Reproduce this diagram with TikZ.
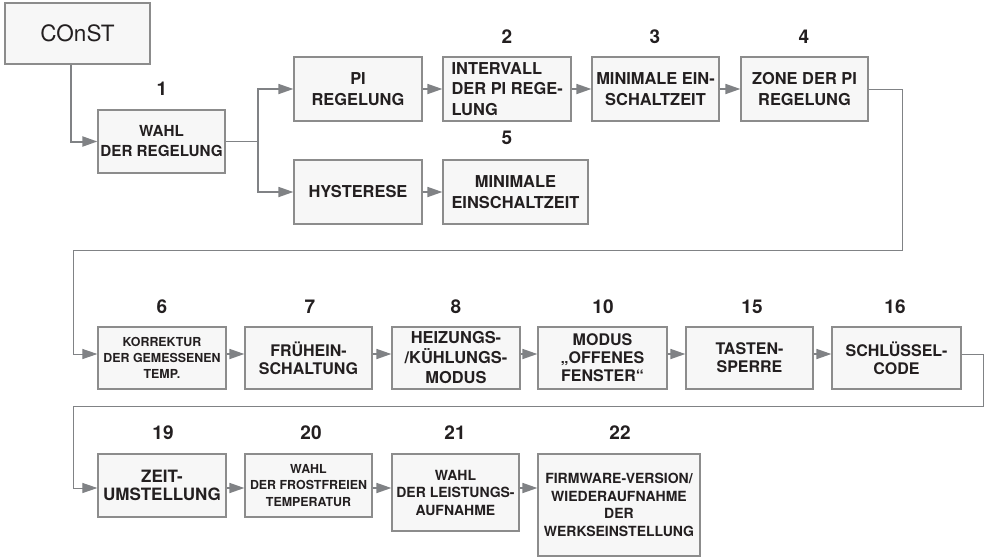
\documentclass[tikz,border=0pt]{standalone}
\usepackage{fontspec}
\setmainfont{TeX Gyre Heros}
\usetikzlibrary{arrows.meta}
\definecolor{bordergray}{HTML}{8C8C8C}
\definecolor{boxfill}{HTML}{F7F7F7}
\definecolor{linegray}{HTML}{808285}
\definecolor{txt}{HTML}{231F20}
\newcommand\fsA{\fontsize{16.4}{20.5}\selectfont\bfseries}
\newcommand\fsB{\fontsize{15.2}{20}\selectfont\bfseries}
\newcommand\fsC{\fontsize{12.4}{16.2}\selectfont\bfseries}
\newcommand\fsD{\fontsize{16}{18}\selectfont\bfseries}
\newcommand\fsE{\fontsize{14}{17.5}\selectfont\bfseries}
\tikzset{
  box/.style={draw=bordergray, fill=boxfill, line width=1.2pt, inner sep=0pt,
    align=center, text=txt, minimum width=128pt, minimum height=64pt},
  num/.style={text=txt, font=\fontsize{19}{21}\selectfont\bfseries, inner sep=0pt},
  arr/.style={draw=linegray, line width=1.7pt,
    -{Triangle[length=15pt,width=10pt]}, color=linegray},
  loopline/.style={draw=linegray, line width=1pt,
    -{Triangle[length=15pt,width=10pt]}, color=linegray},
  plainline/.style={draw=linegray, line width=1.7pt},
}
\begin{document}
\begin{tikzpicture}[x=1pt,y=-1pt]
\useasboundingbox (0,0) rectangle (989,558);
% start
\node[box, minimum width=145pt, minimum height=61pt,
  font=\fontsize{22.5}{24}\selectfont] (const) at (77.5,33.5) {COnST};
% row 1
\node[box, minimum width=127pt, minimum height=63pt, font=\fsB] (b1) at (161.5,141.5) {WAHL\\DER REGELUNG};
\node[box, font=\fsA] (pi) at (358,89) {PI\\REGELUNG};
\node[box] (b2) at (507,89) {};
\node[anchor=west, xshift=9pt, inner sep=0pt, align=left, text=txt, font=\fsA] (b2t) at (b2.west) {INTERVALL\\DER PI REGE-\\LUNG};
\node[box, minimum width=127pt, font=\fsA] (b3) at (655.5,89) {MINIMALE EIN-\\SCHALTZEIT};
\node[box, minimum width=127pt, font=\fsA] (b4) at (804.5,89) {ZONE DER PI\\REGELUNG};
\node[box, font=\fsA] (hys) at (358,192) {HYSTERESE};
\node[box, minimum width=145pt, font=\fsA] (b5) at (515.5,192) {MINIMALE\\EINSCHALTZEIT};
% row 2
\node[box, minimum height=62pt, font=\fsC] (b6) at (162,358) {KORREKTUR\\DER GEMESSENEN\\TEMP.};
\node[box, minimum width=127pt, minimum height=62pt, font=\fsD] (b7) at (308.5,358) {FRÜHEIN-\\SCHALTUNG};
\node[box, minimum height=62pt, font=\fontsize{16.4}{20}\selectfont\bfseries] (b8) at (456,358) {HEIZUNGS-\\/KÜHLUNGS-\\MODUS};
\node[box, minimum width=129pt, minimum height=62pt, font=\fsD] (b10) at (602.5,358) {MODUS\\„OFFENES\\FENSTER“};
\node[box, minimum width=127pt, minimum height=62pt, font=\fsD] (b15) at (749.5,358) {TASTEN-\\SPERRE};
\node[box, minimum width=129pt, minimum height=62pt, font=\fsD] (b16) at (896.5,358) {SCHLÜSSEL-\\CODE};
% row 3
\node[box, minimum height=63pt, font=\fontsize{17}{18.5}\selectfont\bfseries] (b19) at (162,485.5) {ZEIT-\\UMSTELLUNG};
\node[box, minimum width=127pt, minimum height=63pt, font=\fsC] (b20) at (308.5,485.5) {WAHL\\DER FROSTFREIEN\\TEMPERATUR};
\node[box, minimum width=127pt, minimum height=77pt, font=\fsE] (b21) at (455.5,492.5) {WAHL\\DER LEISTUNGS-\\AUFNAHME};
\node[box, minimum width=162pt, minimum height=102pt, font=\fsE] (b22) at (619,505) {FIRMWARE-VERSION/\\WIEDERAUFNAHME\\DER\\WERKSEINSTELLUNG};
% numbers
\node[num] (n1) at (162,89) {1};
\node[num] (n2) at (507,37) {2};
\node[num] (n3) at (655,37) {3};
\node[num] (n4) at (804,37) {4};
\node[num] (n5) at (507,138) {5};
\node[num] (n6) at (162,307) {6};
\node[num] (n7) at (310,307) {7};
\node[num] (n8) at (456,307) {8};
\node[num] (n10) at (603,307) {10};
\node[num] (n15) at (752,307) {15};
\node[num] (n16) at (895,307) {16};
\node[num] (n19) at (163,433) {19};
\node[num] (n20) at (311,433) {20};
\node[num] (n21) at (455,433) {21};
\node[num] (n22) at (620,433) {22};
% helper coordinates
\coordinate (k1) at (71,0);
\coordinate (k2) at (258,0);
\coordinate (k3) at (902,250);
\coordinate (k4) at (73,250);
\coordinate (k5) at (983,406);
\coordinate (k6) at (73,406);
\coordinate (r2) at (0,354);
\coordinate (r3) at (0,488);
% connectors
\draw[arr, line width=2pt] (const.south -| k1) |- (b1.west);
\draw[plainline] (b1.east) -- (b1.east -| k2);
\draw[arr] (b1.east -| k2) |- (pi.west);
\draw[arr] (b1.east -| k2) |- (hys.west);
\draw[arr] (pi) -- (b2);
\draw[arr] (b2) -- (b3);
\draw[arr] (b3) -- (b4);
\draw[arr] (hys) -- (b5);
\draw[loopline] (b4.east) -| (k3) -- (k4) |- (b6.west |- r2);
\draw[arr] (b6.east |- r2) -- (b7.west |- r2);
\draw[arr] (b7.east |- r2) -- (b8.west |- r2);
\draw[arr] (b8.east |- r2) -- (b10.west |- r2);
\draw[arr] (b10.east |- r2) -- (b15.west |- r2);
\draw[arr] (b15.east |- r2) -- (b16.west |- r2);
\draw[loopline] (b16.east |- r2) -| (k5) -- (k6) |- (b19.west |- r3);
\draw[arr] (b19.east |- r3) -- (b20.west |- r3);
\draw[arr] (b20.east |- r3) -- (b21.west |- r3);
\draw[arr] (b21.east |- r3) -- (b22.west |- r3);
\end{tikzpicture}
\end{document}
